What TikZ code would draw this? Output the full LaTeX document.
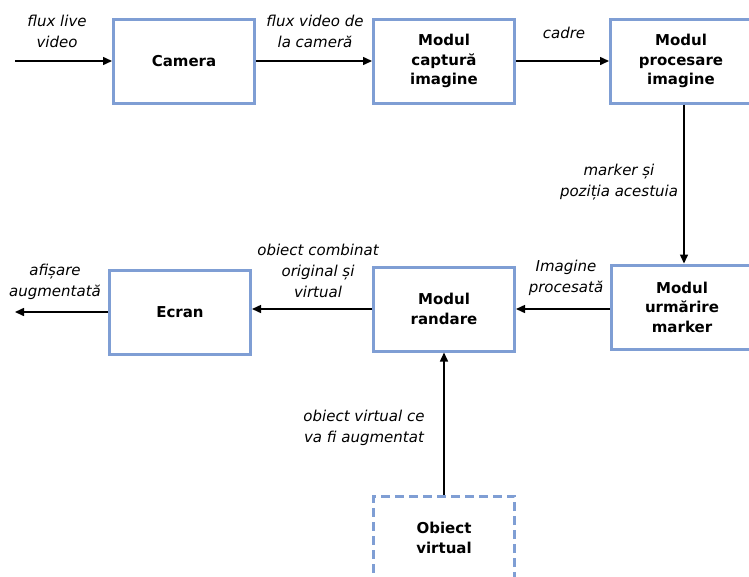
\documentclass[tikz,border=0pt]{standalone}
\usepackage{fontspec}
\setmainfont{DejaVu Sans}
\usetikzlibrary{arrows.meta}
\definecolor{boxblue}{RGB}{127,158,212}
\begin{document}
\begin{tikzpicture}[x=1pt,y=-1pt,
  blk/.style={draw=boxblue,line width=3pt,fill=white,minimum width=141pt,minimum height=84pt,
    align=center,font=\fontsize{15}{19.5}\selectfont\bfseries,inner sep=0pt},
  dblk/.style={blk,dash pattern=on 9pt off 5pt},
  lbl/.style={align=center,font=\fontsize{15}{21}\selectfont\itshape,inner sep=0pt},
  arr/.style={line width=1.5pt,-{Triangle[length=9pt,width=8pt]}}]
\useasboundingbox (0,0) rectangle (749,576);
\node[blk] (cam) at (184,61) {Camera};
\node[blk] (cap) at (444,61) {Modul\\captură\\imagine};
\node[blk] (proc) at (681,61) {Modul\\procesare\\imagine};
\node[blk] (urm) at (682,307) {Modul\\urmărire\\marker};
\node[blk] (rand) at (444,309) {Modul\\randare};
\node[blk] (ecr) at (180,312) {Ecran};
\node[dblk] (obj) at (444,538) {Obiect\\virtual};
\coordinate (in) at (15,61);
\coordinate (out) at (15,312);
\draw[arr] (in) -- (cam.west);
\draw[arr] (cam.east) -- (cap.west);
\draw[arr] (cap.east) -- (proc.west);
\draw[arr] (proc.south -| 684,0) -- (684,0 |- urm.north);
\draw[arr] (urm.west |- 0,309) -- (rand.east);
\draw[arr] (rand.west) -- (rand.west -| ecr.east);
\draw[arr] (ecr.west) -- (out);
\draw[arr] (obj.north) -- (rand.south);
\node[lbl] (l1) at (57,31) {flux live\\video};
\node[lbl] (l2) at (315,31) {flux video de\\la cameră};
\node[lbl] (l3) at (564,33) {cadre};
\node[lbl] (l4) at (619,182) {marker și\\poziția acestuia};
\node[lbl] (l5) at (566,278) {Imagine\\procesată};
\node[lbl] (l6) at (318,271) {obiect combinat\\original și\\virtual};
\node[lbl] (l7) at (55,282) {afișare\\augmentată};
\node[lbl] (l8) at (364,428) {obiect virtual ce\\va fi augmentat};
\end{tikzpicture}
\end{document}
